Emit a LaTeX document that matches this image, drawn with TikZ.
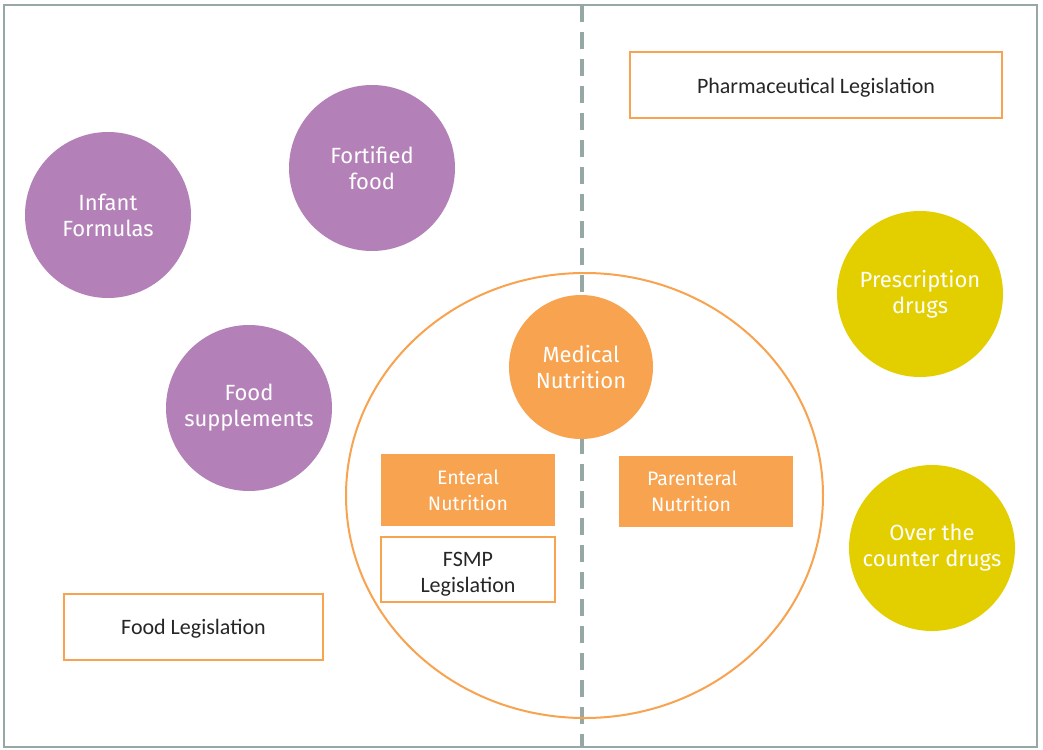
\documentclass[tikz,border=0pt]{standalone}
\usepackage{fontspec}
\usetikzlibrary{shapes.geometric}
\setmainfont{Fira Sans}
\newfontfamily\boxfont{Carlito}
\definecolor{cpurple}{HTML}{B381B8}
\definecolor{cyellow}{HTML}{E3CF00}
\definecolor{corange}{HTML}{F7A350}
\definecolor{cgray}{HTML}{95A8A5}
\begin{document}
\begin{tikzpicture}[x=1pt,y=-1pt,
  bubble/.style={circle,minimum size=166pt,inner sep=0pt,text=white,align=center,font=\fontsize{22}{26}\selectfont},
  pbubble/.style={bubble,fill=cpurple},
  ybubble/.style={bubble,fill=cyellow},
  legbox/.style={draw=corange,line width=2pt,fill=white,inner sep=0pt},
  legtext/.style={inner sep=0pt,align=center,font=\boxfont\fontsize{22}{26}\selectfont,text=black!85},
  nutbox/.style={fill=corange,inner sep=0pt,align=center,text=white,font=\fontsize{19.5}{26}\selectfont}]
\useasboundingbox (0,0) rectangle (1043,749);
\fill[white] (0,0) rectangle (1043,749);
\draw[cgray,line width=2.5pt] (4,5) rectangle (1037,747);
\coordinate (dtop) at (582,5);
\coordinate (dbot) at (582,747);
\draw[cgray,line width=4pt,dash pattern=on 17pt off 10pt] (dtop) -- (dbot);
\node[draw=corange,line width=2pt,ellipse,minimum width=477pt,minimum height=445pt,inner sep=0pt] (big) at (584.5,495.5) {};
\node[pbubble] (infant) at (108,215) {Infant\\Formulas};
\node[pbubble] (fort) at (372,168) {Fortified\\food};
\node[pbubble] (supp) at (249,408) {Food\\supplements};
\node[ybubble] (presc) at (920,294) {Prescription\\drugs};
\node[ybubble] (otc) at (932,548) {Over the\\counter drugs};
\node[circle,fill=corange,minimum size=144pt,inner sep=0pt,text=white,align=center,font=\fontsize{22}{26}\selectfont] (med) at (581,367) {Medical\\Nutrition};
\node[nutbox,minimum width=174pt,minimum height=72pt] (ent) at (468,490) {Enteral\\Nutrition};
\node[nutbox,minimum width=174pt,minimum height=71pt,text width=150pt,align=left] (par) at (706,491.5) {\hspace*{16pt}Parenteral\\\hspace*{20pt}Nutrition};
\node[legbox,minimum width=174pt,minimum height=65pt] (fsmp) at (468,569.5) {};
\node[legtext] (fsmpt) at ([yshift=-5pt]fsmp.center) {FSMP\\Legislation};
\node[legbox,minimum width=259pt,minimum height=66pt] (foodleg) at (193.5,627) {};
\node[legtext] (foodlegt) at ([yshift=-2pt]foodleg.center) {Food Legislation};
\node[legbox,minimum width=372pt,minimum height=66pt] (pharm) at (816,85) {};
\node[legtext] (pharmt) at ([yshift=-3pt]pharm.center) {Pharmaceutical Legislation};
\end{tikzpicture}
\end{document}
